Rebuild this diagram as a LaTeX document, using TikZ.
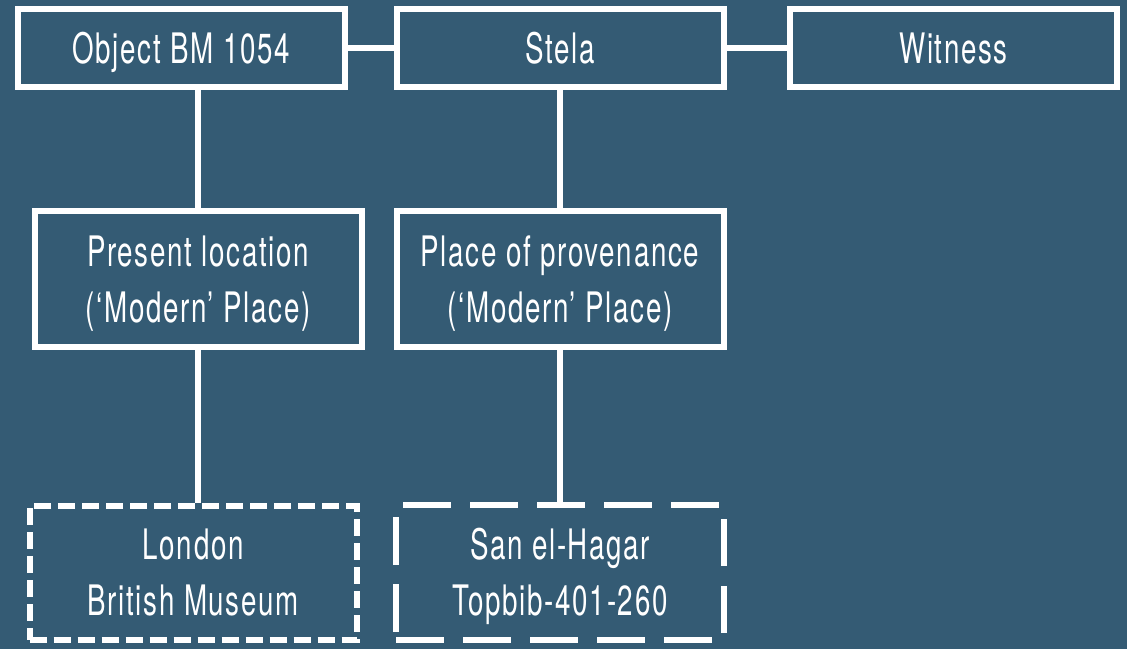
\documentclass[tikz,border=0pt]{standalone}
\usepackage{fontspec}
\setmainfont{TeX Gyre Heros}[FakeStretch=0.66,LetterSpace=4]
\usetikzlibrary{positioning}
\definecolor{bgblue}{HTML}{345B74}

\begin{document}
\begin{tikzpicture}[x=1pt,y=-1pt,
    box/.style={draw=white, line width=6pt, text=white, align=center,
        minimum width=327pt, font=\fontsize{42}{56}\selectfont},
    onerow/.style={box, minimum height=78pt, text height=30pt, text depth=0pt},
    tworow/.style={box, minimum height=136pt, text height=86pt, text depth=0pt},
    shortdash/.style={dash pattern=on 17pt off 7pt},
    longdash/.style={dash pattern=on 47.5pt off 19.5pt},
    link/.style={draw=white, line width=6pt}]

% Background
\fill[bgblue] (0,0) rectangle (1127,649);

% Top row
\node[onerow] (object) at (181.25,48) {Object BM 1054};
\node[onerow] (stela) at (560,48) {Stela};
\node[onerow] (witness) at (953.5,48) {Witness};

% Places
\node[tworow] (present) at (198,279) {Present location\\(`Modern' Place)};
\node[tworow] (provenance) at (560,279) {Place of provenance\\(`Modern' Place)};

% Named places
\node[tworow, shortdash, minimum width=327.5pt, minimum height=134.5pt] (london) at (193.25,572.75) {London\\British Museum};
\node[tworow, longdash, minimum width=328pt, minimum height=135.5pt] (sanhagar) at (560,572.25) {San el-Hagar\\Topbib-401-260};

% Links
\draw[link] (object) -- (stela);
\draw[link] (stela) -- (witness);
\draw[link] (present.north) -- (present.north |- object.south);
\draw[link] (stela) -- (provenance);
\draw[link] (present.south) -- (present.south |- london.north);
\draw[link] (provenance) -- (sanhagar);
\end{tikzpicture}
\end{document}
